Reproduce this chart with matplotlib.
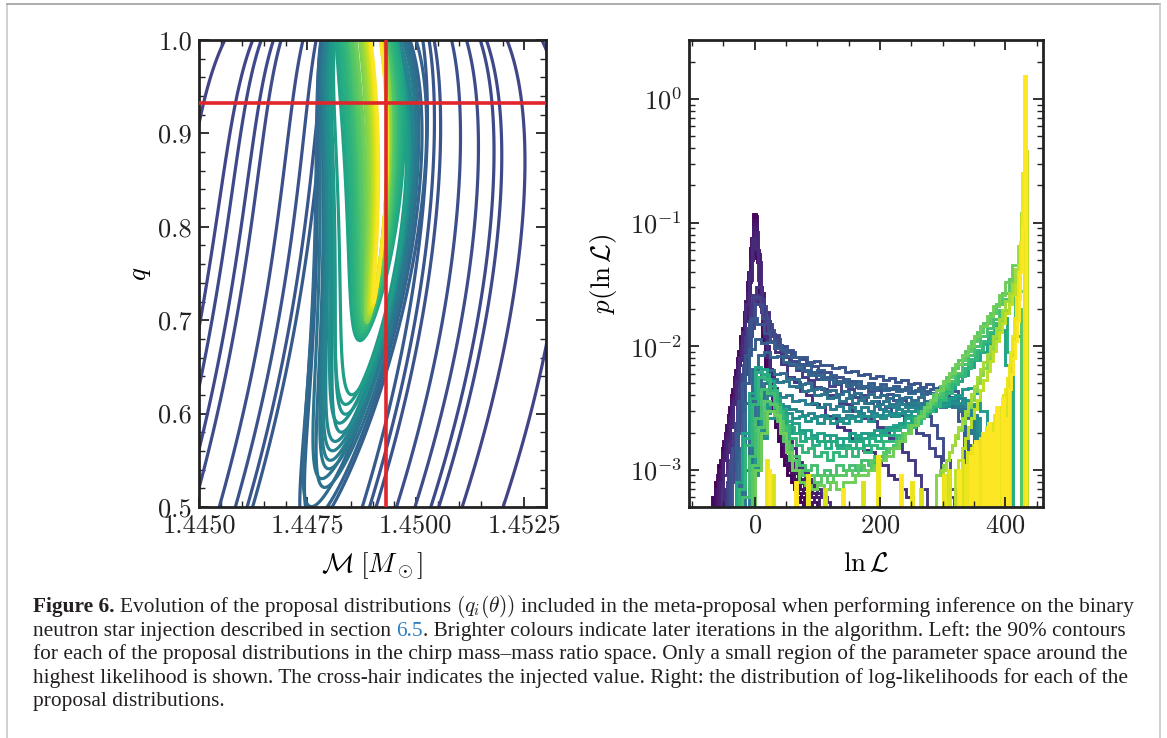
import numpy as np
import matplotlib
matplotlib.use("Agg")
import matplotlib.pyplot as plt
from matplotlib.lines import Line2D
from matplotlib.ticker import MultipleLocator, FixedLocator, LogLocator, NullFormatter, FormatStrFormatter

plt.rcParams.update({
    "font.family": "serif",
    "font.serif": ["cmr10"],
    "mathtext.fontset": "cm",
    "axes.formatter.use_mathtext": True,
    "axes.unicode_minus": False,
})

# ---------------------------------------------------------------------------
# Left panel: 90% contours of each proposal in (chirp mass, mass ratio).
# Each proposal is a Gaussian in warped coordinates
#   u = Mc + WARP_B * (1 - q)^2 ,   w = -ln(Q_CAP - q)
# centre given as (Mc, q), widths as sd in u and in w, plus a u-w correlation.
# ---------------------------------------------------------------------------
WARP_B = 0.0064
Q_CAP = 1.15
CHI2_90 = 4.605

# early proposals (broad)
early_colour = [0.20, 0.21, 0.22, 0.22, 0.23, 0.24, 0.25, 0.26, 0.28]
early_mc = [1.44925, 1.44917, 1.44903, 1.44910, 1.44903, 1.44911, 1.44906, 1.44912, 1.44910]
early_sd_mc = [0.00207, 0.00166, 0.00147, 0.00135, 0.00121, 0.00097, 0.00077, 0.00067, 0.00060]
early_q = [0.70] * 9
early_sd_w = [0.90] * 9
early_rho = [0.0] * 9

# intermediate proposals
mid_colour = [0.30, 0.32, 0.34, 0.36, 0.38, 0.40, 0.42, 0.44, 0.46, 0.48, 0.50, 0.52, 0.54, 0.56]
mid_mc = [1.44905, 1.44900, 1.44895, 1.44902, 1.44896, 1.44901, 1.44895, 1.44900, 1.44896,
          1.44901, 1.44897, 1.44902, 1.44898, 1.44903]
mid_sd_mc = [0.00060, 0.00058, 0.00056, 0.00054, 0.00053, 0.00052, 0.00050, 0.00049, 0.00048,
             0.00047, 0.00046, 0.00045, 0.00044, 0.00043]
mid_q = [0.90] * 14
mid_sd_w = [0.466, 0.455, 0.445, 0.430, 0.423, 0.415, 0.408, 0.400, 0.392, 0.384, 0.376, 0.368,
            0.359, 0.350]
mid_rho = [-0.20, -0.25, -0.20, -0.30, -0.25, -0.30, -0.35, -0.30, -0.35, -0.40, -0.35, -0.40,
           -0.40, -0.45]

# late proposals (narrow, closing in on the injection)
late_colour = [0.58, 0.60, 0.62, 0.64, 0.65, 0.67, 0.69, 0.71, 0.73, 0.74, 0.76, 0.78,
               0.80, 0.82, 0.83, 0.85, 0.87, 0.89, 0.91, 0.92, 0.94, 0.96, 0.98, 1.00]
late_mc = [1.44899, 1.44900, 1.44900, 1.44901, 1.44902, 1.44902, 1.44903, 1.44904, 1.44904,
           1.44905, 1.44906, 1.44906, 1.44907, 1.44908, 1.44908, 1.44909, 1.44910, 1.44910,
           1.44911, 1.44912, 1.44913, 1.44913, 1.44914, 1.44915]
late_sd_mc = [0.000388, 0.000368, 0.000350, 0.000331, 0.000314, 0.000301, 0.000288, 0.000276,
              0.000263, 0.000252, 0.000241, 0.000234, 0.000227, 0.000220, 0.000214, 0.000209,
              0.000203, 0.000199, 0.000196, 0.000194, 0.000192, 0.000190, 0.000188, 0.000187]
late_q = [0.95] * 12 + [0.97] * 12
late_sd_w = [0.400, 0.398, 0.396, 0.393, 0.390, 0.387, 0.384, 0.381, 0.378, 0.375, 0.372, 0.370,
             0.430, 0.428, 0.426, 0.424, 0.422, 0.420, 0.418, 0.416, 0.414, 0.412, 0.410, 0.408]
late_rho = [-0.46, -0.49, -0.51, -0.54, -0.57, -0.59, -0.62, -0.65, -0.68, -0.71, -0.74, -0.77,
            -0.79, -0.81, -0.84, -0.86, -0.88, -0.90, -0.91, -0.92, -0.93, -0.94, -0.95, -0.96]

injected_mc = 1.44930
injected_q = 0.933

# ---------------------------------------------------------------------------
# Right panel: histograms of ln L for each proposal (densities in units of 1e-3)
# ---------------------------------------------------------------------------
hist_colour = [0.00, 0.02, 0.04, 0.06, 0.08, 0.10, 0.12,
               0.14, 0.17, 0.20, 0.23, 0.26, 0.29, 0.32, 0.35, 0.38, 0.42, 0.46, 0.50, 0.54,
               0.58, 0.62, 0.66, 0.70, 0.74, 0.78,
               0.82, 0.86, 0.90]
hist_start = [-68, -66, -63, -61, -58, -55, -50,
              -48, -45, -42, -39, -36, -30, -25, -20, -15, -10, -5, 0, 0,
              -30, -28, -25, -20, -15, -10,
              290, 300, 320]
hist_width = [5] * 7 + [10] * 13 + [10] * 6 + [5] * 3

dens_00 = [0.6, 0.8, 1.1, 1.5, 2.0, 2.8, 4.0, 5.6, 8.0, 12, 19, 33, 62, 118, 52, 22, 11, 6.5, 4.2,
           3.0, 2.2, 1.7, 1.3, 1.1, 0.9, 0.8, 0.7, 0.6, 0.55]
dens_02 = [0.6, 0.9, 1.2, 1.7, 2.3, 3.2, 4.5, 6.4, 9.2, 14, 23, 40, 75, 112, 48, 21, 11, 6.8, 4.5,
           3.2, 2.4, 1.8, 1.4, 1.2, 1.0, 0.85, 0.75, 0.65, 0.6]
dens_04 = [0.7, 1.0, 1.4, 1.9, 2.6, 3.6, 5.2, 7.5, 11, 17, 30, 55, 105, 58, 26, 13, 8, 5.2, 3.6,
           2.6, 2.0, 1.6, 1.3, 1.1, 0.95, 0.85, 0.75, 0.7, 0.65, 0.6, 0.55]
dens_06 = [0.7, 1.0, 1.4, 2.0, 2.8, 3.9, 5.6, 8.2, 12, 19, 33, 62, 98, 56, 27, 14, 8.5, 5.6, 3.9,
           2.9, 2.2, 1.8, 1.5, 1.25, 1.1, 0.95, 0.85, 0.78, 0.7, 0.65, 0.6, 0.55]
dens_08 = [0.8, 1.2, 1.7, 2.4, 3.4, 4.8, 7, 10, 16, 27, 50, 92, 60, 30, 16, 10, 6.5, 4.6, 3.4,
           2.6, 2.1, 1.7, 1.4, 1.2, 1.05, 0.95, 0.85, 0.8, 0.75, 0.7, 0.65, 0.6]
dens_10 = [0.8, 1.2, 1.8, 2.6, 3.7, 5.3, 7.8, 12, 19, 34, 64, 84, 48, 25, 14, 9, 6.2, 4.5, 3.4,
           2.7, 2.2, 1.8, 1.5, 1.3, 1.15, 1.0, 0.9, 0.85, 0.8, 0.75, 0.7, 0.65, 0.6]
dens_12 = [0.9, 1.4, 2.2, 3.4, 5.2, 8, 13, 22, 40, 75, 62, 34, 19, 12, 8.2, 6, 4.6, 3.6, 2.9,
           2.4, 2.0, 1.7, 1.5, 1.3, 1.15, 1.05, 0.95, 0.85, 0.8, 0.75, 0.7, 0.65, 0.6, 0.55]
dens_14 = [0.7, 1.6, 4, 10, 22, 30, 19, 12.5, 9, 7.2, 5.6, 5.1, 4.3, 4.0, 3.4, 3.2, 2.7, 2.6, 2.2,
           2.1, 1.8, 1.7, 1.45, 1.4, 1.15, 1.1, 0.9, 0.85, 0.7, 0.6]
dens_17 = [0.8, 2.0, 5, 12, 26, 24, 16, 12, 9.8, 8.2, 7.0, 6.4, 5.6, 5.3, 4.7, 4.5, 4.0, 3.9, 3.5,
           3.4, 3.0, 2.9, 2.6, 2.5, 2.2, 2.1, 1.8, 1.7, 1.4, 1.2, 0.9, 0.7]
dens_20 = [1.0, 2.4, 6, 14, 25, 21, 15, 12.4, 9.8, 9.1, 7.6, 7.2, 6.3, 6.2, 5.4, 5.5, 4.8, 4.9, 4.3,
           4.5, 3.9, 4.0, 3.5, 3.6, 3.1, 3.2, 2.7, 2.8, 2.4, 2.4, 2.0, 1.9, 1.5, 1.3, 0.9, 0.6]
dens_23 = [1.2, 3.0, 7, 16, 22, 17, 13.5, 11.5, 10, 9.4, 8.2, 7.9, 7.0, 6.9, 6.2, 6.2, 5.6, 5.6, 5.1,
           5.2, 4.7, 4.8, 4.3, 4.4, 4.0, 4.1, 3.7, 3.7, 3.3, 3.3, 2.9, 2.7, 2.3, 1.8, 1.2, 0.7]
dens_26 = [1.5, 3.6, 8.5, 17, 15, 12.8, 11, 10.2, 9.1, 8.9, 8.2, 8.1, 7.5, 7.6, 7.0, 7.1, 6.6, 6.8,
           6.2, 6.3, 5.8, 6.0, 5.5, 5.7, 5.3, 5.5, 5.1, 5.3, 4.9, 5.0, 4.7, 4.9, 4.6, 4.7, 4.4, 4.3, 2.5]
dens_29 = [2.0, 5.0, 9.5, 11.5, 10.6, 10.8, 9.6, 9.5, 8.3, 8.1, 7.0, 7.1, 6.2, 6.4, 5.6, 5.8, 5.2,
           5.4, 4.9, 5.2, 4.7, 5.0, 4.6, 4.9, 4.5, 4.8, 4.4, 4.7, 4.3, 4.6, 4.3, 4.5, 4.1, 4.2, 3.9, 3.5, 2.2]
dens_32 = [1.5, 3.5, 6.5, 8.5, 9.0, 8.2, 8.3, 7.4, 7.2, 6.6, 6.4, 5.9, 5.8, 5.4, 5.4, 5.0, 5.1, 4.8,
           4.9, 4.6, 4.8, 4.5, 4.7, 4.4, 4.6, 4.3, 4.5, 4.2, 4.4, 4.1, 4.2, 4.0, 4.0, 3.8, 3.6, 3.0, 1.6]
dens_35 = [1.0, 2.5, 4.5, 6.0, 6.4, 6.0, 6.1, 5.5, 5.4, 4.9, 5.0, 4.5, 4.6, 4.3, 4.4, 4.1, 4.3, 4.0,
           4.2, 3.9, 4.1, 3.9, 4.0, 3.8, 4.0, 3.8, 3.9, 3.7, 3.9, 3.6, 3.7, 3.5, 3.6, 3.4, 3.4, 3.1, 2.6, 1.2]
dens_38 = [1.0, 2.2, 3.8, 5.0, 5.4, 5.1, 5.2, 4.8, 4.7, 4.3, 4.4, 4.0, 4.1, 3.8, 3.9, 3.6, 3.8, 3.5,
           3.7, 3.5, 3.6, 3.4, 3.6, 3.4, 3.6, 3.4, 3.5, 3.3, 3.5, 3.3, 3.4, 3.2, 3.3, 3.2, 3.1, 2.8, 2.0, 1.0]
dens_42 = [0.8, 2.0, 3.2, 4.0, 4.2, 3.9, 4.0, 3.6, 3.7, 3.4, 3.5, 3.2, 3.4, 3.1, 3.3, 3.0, 3.2, 3.0,
           3.2, 3.0, 3.3, 3.1, 3.3, 3.2, 3.4, 3.2, 3.5, 3.3, 3.5, 3.4, 3.6, 3.4, 3.6, 3.3, 3.3, 2.8, 1.5]
dens_46 = [0.9, 1.9, 2.9, 3.5, 3.4, 3.3, 3.1, 3.0, 2.8, 2.9, 2.7, 2.8, 2.6, 2.8, 2.6, 2.8, 2.7, 2.9,
           2.7, 2.9, 2.8, 3.0, 2.9, 3.1, 3.0, 3.2, 3.1, 3.3, 3.3, 3.5, 3.5, 3.7, 3.6, 3.8, 3.5, 2.8, 1.4]
dens_50 = [1.0, 1.8, 2.6, 3.0, 2.8, 2.9, 2.6, 2.7, 2.5, 2.6, 2.4, 2.6, 2.4, 2.5, 2.4, 2.6, 2.5, 2.7,
           2.5, 2.7, 2.6, 2.8, 2.7, 2.9, 2.8, 3.0, 2.9, 3.1, 3.1, 3.3, 3.3, 3.5, 3.5, 3.7, 3.4, 2.6, 1.2]
dens_54 = [1.5, 2.8, 3.4, 3.0, 2.5, 2.3, 2.0, 2.1, 1.8, 1.9, 1.7, 1.9, 1.7, 1.8, 1.8, 2.0, 1.8, 2.0,
           1.9, 2.1, 2.0, 2.2, 2.2, 2.4, 2.4, 2.6, 2.6, 2.9, 3.0, 3.3, 3.4, 3.8, 4.0, 4.5, 4.6, 4.2, 3.0, 1.5]
dens_58 = [0.8, 2.0, 4.2, 6.8, 6.5, 5.2, 3.8, 3.1, 2.5, 2.4, 2.0, 2.1, 1.8, 2.0, 1.7, 1.9, 1.6, 1.8,
           1.7, 1.9, 1.8, 2.0, 1.9, 2.1, 2.1, 2.3, 2.3, 2.6, 2.7, 3.0, 3.2, 3.5, 3.8, 4.2, 4.6, 5.2,
           5.9, 6.8, 7.8, 9.0, 10.5, 12, 13.5, 7]
dens_62 = [0.7, 1.8, 3.8, 6.2, 6.0, 4.8, 3.4, 2.7, 2.2, 2.0, 1.7, 1.8, 1.6, 1.7, 1.5, 1.7, 1.5, 1.6,
           1.5, 1.7, 1.6, 1.8, 1.7, 1.9, 1.9, 2.1, 2.2, 2.4, 2.6, 2.9, 3.2, 3.5, 3.9, 4.4, 5.0, 5.8,
           6.7, 7.8, 9.0, 10.5, 12.5, 14.5, 17, 9]
dens_66 = [0.7, 1.6, 3.4, 5.6, 5.4, 4.4, 3.0, 2.3, 1.8, 1.6, 1.4, 1.5, 1.3, 1.4, 1.2, 1.4, 1.3, 1.5,
           1.3, 1.5, 1.4, 1.6, 1.5, 1.7, 1.7, 1.9, 2.0, 2.2, 2.4, 2.7, 3.0, 3.3, 3.7, 4.2, 4.9, 5.7,
           6.7, 7.9, 9.3, 11, 13, 15.5, 19, 24, 12]
dens_70 = [0.6, 1.3, 2.6, 4.5, 4.2, 3.2, 2.2, 1.6, 1.3, 1.1, 1.0, 1.1, 0.9, 1.0, 0.9, 1.1, 1.0, 1.1,
           1.0, 1.2, 1.1, 1.3, 1.3, 1.5, 1.6, 1.8, 2.0, 2.3, 2.6, 3.0, 3.4, 3.9, 4.5, 5.2, 6.1, 7.2,
           8.5, 10, 12, 14, 16.5, 19.5, 24, 31, 16]
dens_74 = [0.5, 1.1, 2.2, 3.6, 3.4, 2.5, 1.7, 1.2, 1.0, 0.9, 0.9, 0.8, 0.9, 0.8, 0.9, 0.9, 1.0, 0.9,
           1.1, 1.0, 1.2, 1.2, 1.4, 1.5, 1.7, 2.0, 2.3, 2.6, 3.0, 3.5, 4.1, 4.8, 5.6, 6.6, 7.8, 9.2,
           11, 13, 15.5, 18.5, 22, 27, 35, 20]
dens_78 = [0.5, 1.0, 2.0, 3.0, 2.8, 2.0, 1.4, 1.0, 0.8, 0.75, 0.7, 0.75, 0.7, 0.8, 0.7, 0.8, 0.8,
           0.9, 0.9, 1.0, 1.1, 1.2, 1.3, 1.5, 1.7, 2.0, 2.3, 2.7, 3.2, 3.7, 4.4, 5.2, 6.1, 7.2, 8.5,
           10, 12, 14.5, 17.5, 21, 26, 33, 45, 28]
dens_82 = [0.9, 1.0, 1.1, 1.2, 1.4, 1.6, 1.8, 2.1, 2.4, 2.8, 3.2, 3.7, 4.3, 5.0, 5.8, 6.7, 7.8, 9.0,
           10.5, 12, 14, 16.5, 19.5, 23, 28, 36, 55, 90]
dens_86 = [1.0, 1.2, 1.4, 1.6, 1.9, 2.2, 2.6, 3.0, 3.5, 4.1, 4.8, 5.6, 6.5, 7.5, 8.7, 10, 12, 14,
           16.5, 19.5, 23, 27, 32, 42, 65, 120, 240]
dens_90 = [1.0, 1.2, 1.5, 1.8, 2.2, 2.6, 3.1, 3.7, 4.4, 5.3, 6.3, 7.6, 9.1, 11, 13, 15.5, 18.5, 22,
           26, 31, 45, 110, 380]

hist_dens = [dens_00, dens_02, dens_04, dens_06, dens_08, dens_10, dens_12,
             dens_14, dens_17, dens_20, dens_23, dens_26, dens_29, dens_32, dens_35, dens_38,
             dens_42, dens_46, dens_50, dens_54,
             dens_58, dens_62, dens_66, dens_70, dens_74, dens_78,
             dens_82, dens_86, dens_90]

# last proposals: narrow bins, most of them empty (densities in units of 1e-3)
spike_width = 3
spike_colour = [0.94, 0.97, 1.00]
spike_left_94 = [27, 112, 171, 266, 311, 332, 341, 350, 359, 365, 371, 380, 386, 392, 398, 404, 410,
                 413, 416, 419, 422, 425, 428]
spike_dens_94 = [0.9, 0.7, 0.8, 0.7, 1.0, 1.2, 1.4, 1.6, 1.5, 2.0, 1.8, 2.4, 2.6, 3.2, 4.0, 5.5, 8,
                 11, 15, 22, 35, 60, 120]
spike_left_97 = [18, 85, 197, 251, 302, 338, 347, 356, 362, 371, 377, 383, 389, 392, 398, 401, 404,
                 407, 410, 413, 416, 419, 422, 425, 428]
spike_dens_97 = [1.2, 0.9, 1.3, 0.8, 0.9, 1.1, 1.5, 1.2, 1.8, 2.2, 1.6, 2.8, 3.0, 2.2, 3.5, 4.5, 5.5,
                 7, 9, 12, 17, 25, 40, 70, 250]
spike_left_100 = [22, 64, 140, 233, 325, 344, 353, 365, 374, 380, 386, 395, 401, 407, 410, 413, 416,
                  419, 422, 425, 428, 431]
spike_dens_100 = [1.0, 0.8, 0.7, 0.9, 1.0, 1.3, 1.7, 2.0, 2.4, 2.0, 3.2, 3.8, 2.6, 4.5, 6, 8, 11, 16,
                  24, 40, 90, 1520]

# ---------------------------------------------------------------------------
W_PX, H_PX = 1167, 738
fig = plt.figure(figsize=(W_PX / 100, H_PX / 100), dpi=100)
cmap = plt.get_cmap("viridis")
SPINE = "#222222"
TICK_FS = 19
LABEL_FS = 19.5


def style_axes(ax):
    for s in ax.spines.values():
        s.set_linewidth(2.0)
        s.set_color(SPINE)
    ax.tick_params(which="both", direction="in", top=True, right=True, colors=SPINE,
                   labelcolor="#222222", labelsize=TICK_FS)
    ax.tick_params(which="major", length=7, width=1.3, pad=5)
    ax.tick_params(which="minor", length=4, width=1.0)


# left panel
ax1 = fig.add_axes([199 / W_PX, 1 - 507 / H_PX, 347 / W_PX, 467 / H_PX])
mc_grid = np.linspace(1.4420, 1.4560, 1400)
q_grid = np.linspace(0.40, 1.1495, 900)
MC, QQ = np.meshgrid(mc_grid, q_grid)
U = MC + WARP_B * (1.0 - QQ) ** 2
WW = -np.log(Q_CAP - QQ)

families = [
    (early_colour, early_mc, early_sd_mc, early_q, early_sd_w, early_rho),
    (mid_colour, mid_mc, mid_sd_mc, mid_q, mid_sd_w, mid_rho),
    (late_colour, late_mc, late_sd_mc, late_q, late_sd_w, late_rho),
]
for fam in families:
    for c, mu, su, mq, sw, r in zip(*fam):
        zu = (U - mu) / su
        zw = (WW + np.log(Q_CAP - mq)) / sw
        d2 = (zu ** 2 - 2 * r * zu * zw + zw ** 2) / (1 - r ** 2)
        ax1.contour(MC, QQ, d2, levels=[CHI2_90], colors=[cmap(c)], linewidths=2.3)
ax1.axvline(injected_mc, color="#e0262b", lw=2.6, zorder=5)
ax1.axhline(injected_q, color="#e0262b", lw=2.6, zorder=5)
ax1.set_xlim(1.4450, 1.4530)
ax1.set_ylim(0.5, 1.0)
ax1.xaxis.set_major_locator(FixedLocator([1.4450, 1.4475, 1.4500, 1.4525]))
ax1.xaxis.set_major_formatter(FormatStrFormatter("%.4f"))
ax1.xaxis.set_minor_locator(MultipleLocator(0.0005))
ax1.yaxis.set_major_locator(MultipleLocator(0.1))
ax1.yaxis.set_major_formatter(FormatStrFormatter("%.1f"))
ax1.yaxis.set_minor_locator(MultipleLocator(0.02))
style_axes(ax1)
ax1.set_xlabel(r"$\mathcal{M}\;[M_\odot]$", fontsize=LABEL_FS, labelpad=9)
ax1.set_ylabel(r"$q$", fontsize=LABEL_FS, labelpad=4)

# right panel
ax2 = fig.add_axes([689 / W_PX, 1 - 507 / H_PX, 354 / W_PX, 467 / H_PX])
for c, x0, bw, dens in zip(hist_colour, hist_start, hist_width, hist_dens):
    vals = np.asarray(dens) * 1e-3
    edges = x0 + bw * np.arange(len(vals) + 1)
    ax2.stairs(vals, edges, color=cmap(c), lw=2.1)
for c, lefts, dens in zip(spike_colour, [spike_left_94, spike_left_97, spike_left_100],
                          [spike_dens_94, spike_dens_97, spike_dens_100]):
    lo = min(lefts)
    n = (max(lefts) - lo) // spike_width + 1
    vals = np.zeros(n)
    vals[(np.asarray(lefts) - lo) // spike_width] = np.asarray(dens) * 1e-3
    edges = lo + spike_width * np.arange(n + 1)
    ax2.stairs(vals, edges, color=cmap(c), lw=2.1)
ax2.set_yscale("log")
ax2.set_xlim(-105, 460)
ax2.set_ylim(5e-4, 3.0)
ax2.xaxis.set_major_locator(FixedLocator([0, 200, 400]))
ax2.xaxis.set_minor_locator(MultipleLocator(50))
ax2.yaxis.set_major_locator(LogLocator(base=10, numticks=10))
ax2.yaxis.set_minor_locator(LogLocator(base=10, subs=np.arange(2, 10), numticks=20))
ax2.yaxis.set_minor_formatter(NullFormatter())
style_axes(ax2)
ax2.set_xlabel(r"$\ln\mathcal{L}$", fontsize=LABEL_FS, labelpad=10)
ax2.set_ylabel(r"$p(\ln\mathcal{L})$", fontsize=LABEL_FS, labelpad=8)

# caption
CAP_FS = 15.4
CAP_FONT = "Liberation Serif"
CAP_COL = "#231f20"
renderer = fig.canvas.get_renderer()


def text_width(s, **kw):
    t = fig.text(0, 0, s, fontsize=CAP_FS, family=CAP_FONT, **kw)
    w = t.get_window_extent(renderer).width
    t.remove()
    return w


space_px = text_width("x x") - text_width("xx")


def caption_line(y_px, runs):
    x = 33.0
    for i, (s, kw) in enumerate(runs):
        style = dict(fontsize=CAP_FS, family=CAP_FONT, color=CAP_COL, va="baseline", ha="left")
        style.update(kw)
        t = fig.text(x / W_PX, 1 - y_px / H_PX, s, **style)
        x += t.get_window_extent(renderer).width
        if i < len(runs) - 1 and not runs[i + 1][0].startswith("."):
            x += space_px


caption_line(612, [("Figure 6.", {"weight": "bold"}),
                   ("Evolution of the proposal distributions", {}),
                   (r"$(q_i(\theta))$", {}),
                   ("included in the meta-proposal when performing inference on the binary", {})])
caption_line(636, [("neutron star injection described in section", {}),
                   ("6.5", {"color": "#2f7fc1"}),
                   (". Brighter colours indicate later iterations in the algorithm. Left: the 90% contours", {})])
caption_line(659, [("for each of the proposal distributions in the chirp mass\u2013mass ratio space. Only a small region of the parameter space around the", {})])
caption_line(683, [("highest likelihood is shown. The cross-hair indicates the injected value. Right: the distribution of log-likelihoods for each of the", {})])
caption_line(706, [("proposal distributions.", {})])

# page frame
for xs, ys, col in [((7, 7), (4, 738), "#c8c8c8"),
                    ((7, 1160), (4, 4), "#a0a0a0"),
                    ((1160, 1160), (4, 738), "#c8c8c8")]:
    fig.add_artist(Line2D([x / W_PX for x in xs], [1 - y / H_PX for y in ys],
                          color=col, lw=1.2, transform=fig.transFigure))

fig.savefig("out.png", dpi=100)
